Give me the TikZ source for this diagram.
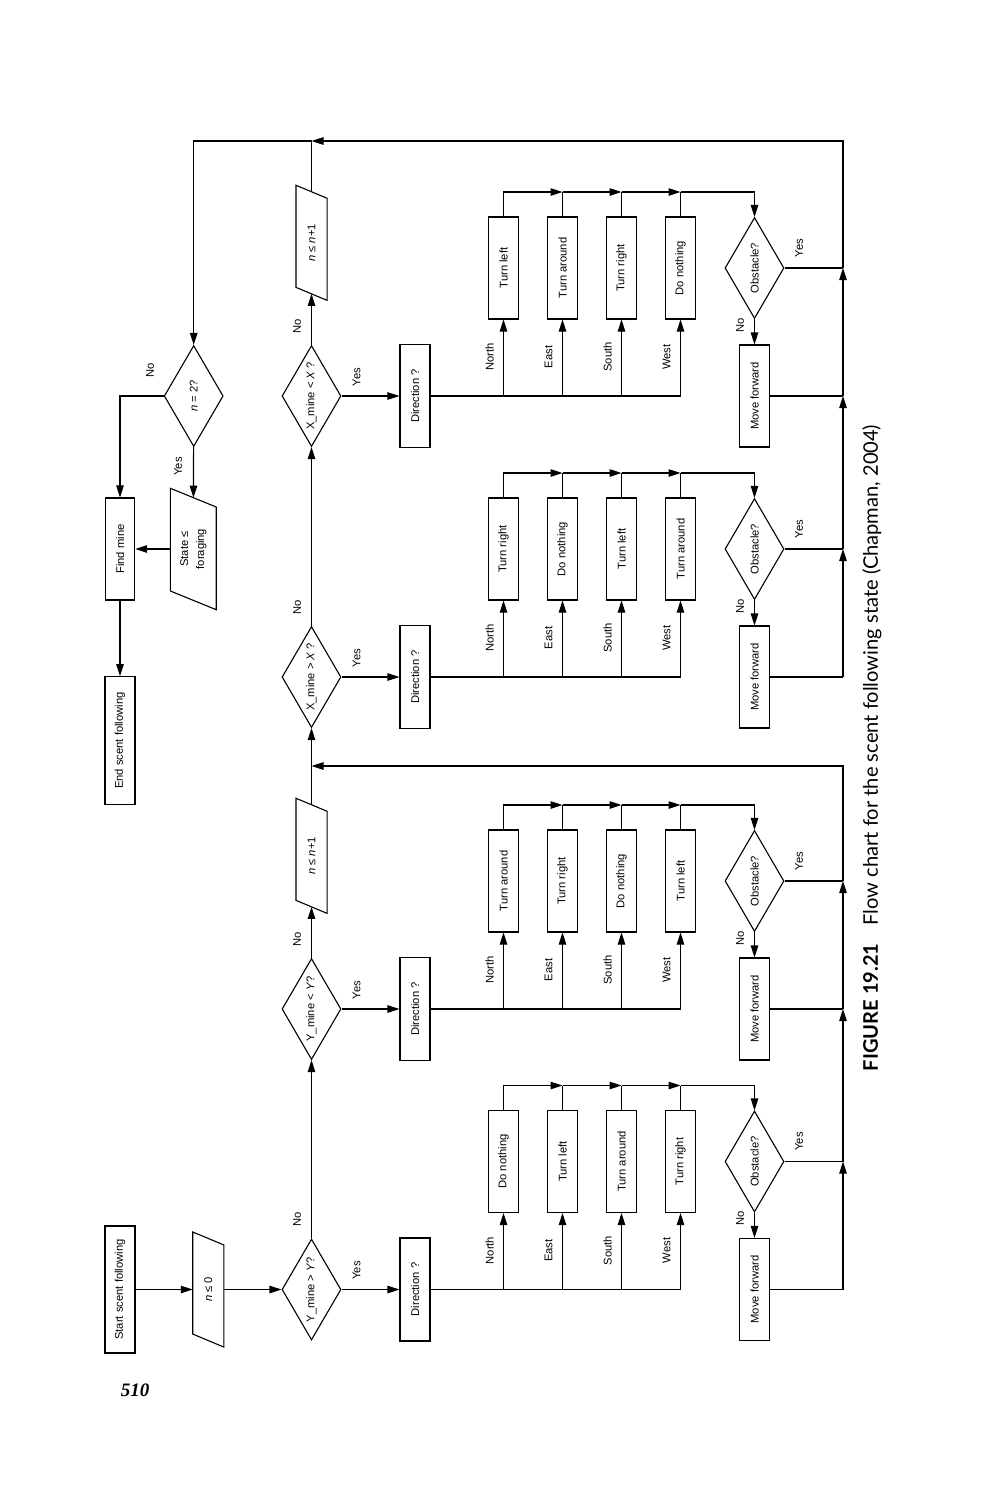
\documentclass[tikz,border=0pt]{standalone}
\usepackage{fontspec}
\setmainfont{Liberation Sans}
\newfontfamily\pnfont{Liberation Serif}
\newfontfamily\capfont{Lato}
\usetikzlibrary{arrows.meta,shapes.geometric,calc}

\newcommand\drawpara[2]{%
  \draw ($(#1.north east)+(0,-#2)$) -- ($(#1.south east)+(0,#2)$) --
        ($(#1.south west)+(0,#2)$) -- ($(#1.north west)+(0,-#2)$) -- cycle;}

\newcommand\flowblock[7]{%
  \node[dec] (d#1) at (311.5,#2) {#3};
  \node[box, minimum width=103] (dir#1) at (415,#2) {Direction ?};
  \node[box] (a#1-1) at (503.5,#2-128) {#4};
  \node[box] (a#1-2) at (562.5,#2-128) {#5};
  \node[box] (a#1-3) at (621.5,#2-128) {#6};
  \node[box] (a#1-4) at (680.5,#2-128) {#7};
  \node[dec] (obs#1) at (754.5,#2-128) {Obstacle?};
  \node[box] (mv#1) at (754.5,#2) {Move forward};
  \coordinate (t#1-1) at (503.5,#2-204);
  \coordinate (t#1-2) at (562.5,#2-204);
  \coordinate (t#1-3) at (621.5,#2-204);
  \coordinate (t#1-4) at (680.5,#2-204);
  \coordinate (ry#1) at (843,#2-128);
  \coordinate (rm#1) at (843,#2);
  \node[lbl] (yes#1) at (356.5,#2-19) {Yes};
  \node[lbl] (no#1) at (297,#2-70) {No};
  \node[lbl] (north#1) at (489.5,#2-39) {North};
  \node[lbl] (east#1) at (548.5,#2-39) {East};
  \node[lbl] (south#1) at (607.5,#2-39) {South};
  \node[lbl] (west#1) at (666.5,#2-39) {West};
  \node[lbl] (oyes#1) at (799,#2-148) {Yes};
  \node[lbl] (ono#1) at (740,#2-71) {No};
  \draw[arr] (d#1) -- (dir#1);
  \draw (dir#1) -- (a#1-4 |- dir#1);
  \draw[arr] (a#1-1 |- dir#1) -- (a#1-1);
  \draw[arr] (a#1-2 |- dir#1) -- (a#1-2);
  \draw[arr] (a#1-3 |- dir#1) -- (a#1-3);
  \draw[arr] (a#1-4 |- dir#1) -- (a#1-4);
  \draw[arr] (a#1-1) |- (t#1-2);
  \draw (a#1-2) -- (t#1-2);
  \draw[arr] (t#1-2) -- (t#1-3);
  \draw (a#1-3) -- (t#1-3);
  \draw[arr] (t#1-3) -- (t#1-4);
  \draw (a#1-4) -- (t#1-4);
  \draw[arr] (t#1-4) -| (obs#1);
  \draw[arr] (obs#1) -- (mv#1);
  \draw (obs#1) -- (ry#1);
  \draw (mv#1) -- (rm#1);
}

\begin{document}
\begin{tikzpicture}[x=1pt,y=-1pt, line width=1.1pt,
  every node/.style={font=\fontsize{11.2}{13}\selectfont},
  box/.style={draw, rectangle, rotate=90, inner sep=0, minimum width=102, minimum height=30},
  dec/.style={draw, diamond, rotate=90, inner sep=0, minimum width=101, minimum height=59, shape aspect=1.7},
  para/.style={rectangle, rotate=90, inner sep=0, minimum width=101, minimum height=30},
  lbl/.style={rotate=90, inner sep=0},
  arr/.style={-{Triangle[length=12pt,width=7.5pt]}},
]
\useasboundingbox (0,0) rectangle (993,1500);

% page number and caption
\node[font=\pnfont\bfseries\itshape\fontsize{19}{20}\selectfont] (pg) at (135,1390) {510};
\node[rotate=90, font=\capfont\fontsize{20.1}{22}\selectfont] (cap) at (872,748)
  {\textbf{FIGURE 19.21}\hspace{0.9em}Flow chart for the scent following state (Chapman, 2004)};

% start
\node[box, minimum width=127] (start) at (120,1289.5) {Start scent following};
\node[para] (p0) at (208.3,1289.5) {\textit{n} ≤ 0};
\drawpara{p0}{6.5}

\flowblock{1}{1289.5}{Y\_mine > \textit{Y}?}{Do nothing}{Turn left}{Turn around}{Turn right}
\flowblock{2}{1009}{Y\_mine < \textit{Y}?}{Turn around}{Turn right}{Do nothing}{Turn left}
\flowblock{3}{677}{X\_mine > \textit{X} ?}{Turn right}{Do nothing}{Turn left}{Turn around}
\flowblock{4}{396}{X\_mine < \textit{X} ?}{Turn left}{Turn around}{Turn right}{Do nothing}

\node[para] (p1) at (311.5,855.8) {\textit{n} ≤ \textit{n}+1};
\drawpara{p1}{6.5}
\node[para] (p2) at (311.5,242.8) {\textit{n} ≤ \textit{n}+1};
\drawpara{p2}{6.5}

% left part
\node[dec] (n2) at (193.7,396) {\textit{n} = 2?};
\node[box, minimum height=29.3] (find) at (120,549) {Find mine};
\node[para, minimum width=101.6, minimum height=44.7, align=center,
      font=\fontsize{11.2}{16}\selectfont] (state) at (193.3,549) {State ≤\\foraging};
\drawpara{state}{9.35}
\node[box, minimum width=127.6] (end) at (120,740.5) {End scent following};
\node[lbl] (n2no) at (150,370) {No};
\node[lbl] (n2yes) at (178,466.5) {Yes};

% main line
\coordinate (j1) at (311.5,766);
\coordinate (j2) at (311.5,141);
\draw[arr] (start) -- (p0);
\draw[arr] (p0) -- (d1);
\draw[arr] (d1) -- (d2);
\draw[arr] (d2) -- (p1);
\draw (p1) -- (j1);
\draw[arr] (j1) -- (d3);
\draw[arr] (d3) -- (d4);
\draw[arr] (d4) -- (p2);
\draw (p2) -- (j2);

% right return lines
\draw[arr] (rm1) -- (ry1);
\draw[arr] (ry1) -- (rm2);
\draw[arr] (rm2) -- (ry2);
\draw[arr] (ry2) |- (j1);
\draw[arr] (rm3) -- (ry3);
\draw[arr] (ry3) -- (rm4);
\draw[arr] (rm4) -- (ry4);
\draw[arr] (ry4) |- (j2);
\draw[arr] (j2) -| (n2);

% end part
\draw[arr] (n2) -| (find);
\draw[arr] (n2) -- (state);
\draw[arr] (state) -- (find);
\draw[arr] (find) -- (end);
\end{tikzpicture}
\end{document}
